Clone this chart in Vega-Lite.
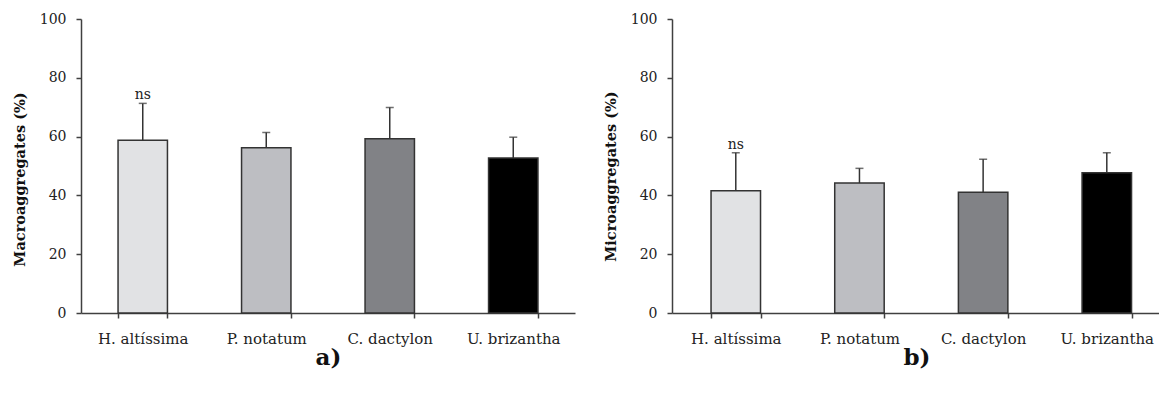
{
  "$schema": "https://vega.github.io/schema/vega-lite/v6.json",
  "padding": {"left": 12, "top": 12, "right": 0, "bottom": 0},
  "background": "white",
  "datasets": {
    "macro": [
      {"species": "H. altíssima", "value": 58.8, "upper": 71.3, "label": "ns"},
      {"species": "P. notatum", "value": 56.2, "upper": 61.4, "label": ""},
      {"species": "C. dactylon", "value": 59.3, "upper": 69.9, "label": ""},
      {"species": "U. brizantha", "value": 52.7, "upper": 59.8, "label": ""}
    ],
    "micro": [
      {"species": "H. altíssima", "value": 41.6, "upper": 54.5, "label": "ns"},
      {"species": "P. notatum", "value": 44.2, "upper": 49.2, "label": ""},
      {"species": "C. dactylon", "value": 41.1, "upper": 52.3, "label": ""},
      {"species": "U. brizantha", "value": 47.7, "upper": 54.5, "label": ""}
    ]
  },
  "spacing": 28,
  "hconcat": [
    {
      "width": 494,
      "height": 294,
      "data": {"name": "macro"},
      "encoding": {
        "x": {
          "field": "species", "type": "nominal", "sort": null,
          "scale": {"paddingInner": 0.6, "paddingOuter": 0.3},
          "axis": {"title": "a)", "labelAngle": 0, "tickBand": "extent"}
        }
      },
      "layer": [
        {
          "mark": {"type": "bar", "stroke": "#333333", "strokeWidth": 1.5},
          "encoding": {
            "y": {"field": "value", "type": "quantitative", "title": "Macroaggregates (%)",
              "scale": {"domain": [0, 100], "nice": false},
              "axis": {"values": [0, 20, 40, 60, 80, 100], "titleY": 160}},
            "color": {"field": "species", "type": "nominal", "sort": null,
              "scale": {"domain": ["H. altíssima", "P. notatum", "C. dactylon", "U. brizantha"], "range": ["#e1e2e4", "#bdbec2", "#818286", "#000000"]},
              "legend": null}
          }
        },
        {
          "mark": {"type": "rule", "color": "#333333", "strokeWidth": 1.5},
          "encoding": {
            "y": {"field": "value", "type": "quantitative", "title": "Macroaggregates (%)"},
            "y2": {"field": "upper"}
          }
        },
        {
          "mark": {"type": "tick", "color": "#333333", "thickness": 1.5, "size": 8, "orient": "horizontal"},
          "encoding": {
            "y": {"field": "upper", "type": "quantitative", "title": "Macroaggregates (%)"}
          }
        },
        {
          "mark": {"type": "text", "font": "DejaVu Serif", "fontSize": 14, "color": "#222222", "baseline": "bottom", "dy": -1},
          "encoding": {
            "y": {"field": "upper", "type": "quantitative", "title": "Macroaggregates (%)"},
            "text": {"field": "label"}
          }
        }
      ]
    },
    {
      "width": 489,
      "height": 294,
      "data": {"name": "micro"},
      "encoding": {
        "x": {
          "field": "species", "type": "nominal", "sort": null,
          "scale": {"paddingInner": 0.6, "paddingOuter": 0.277, "align": 0.57},
          "axis": {"title": "b)", "labelAngle": 0, "tickBand": "extent"}
        }
      },
      "layer": [
        {
          "mark": {"type": "bar", "stroke": "#333333", "strokeWidth": 1.5},
          "encoding": {
            "y": {"field": "value", "type": "quantitative", "title": "Microaggregates (%)",
              "scale": {"domain": [0, 100], "nice": false},
              "axis": {"values": [0, 20, 40, 60, 80, 100], "titleY": 157}},
            "color": {"field": "species", "type": "nominal", "sort": null,
              "scale": {"domain": ["H. altíssima", "P. notatum", "C. dactylon", "U. brizantha"], "range": ["#e1e2e4", "#bdbec2", "#818286", "#000000"]},
              "legend": null}
          }
        },
        {
          "mark": {"type": "rule", "color": "#333333", "strokeWidth": 1.5},
          "encoding": {
            "y": {"field": "value", "type": "quantitative", "title": "Microaggregates (%)"},
            "y2": {"field": "upper"}
          }
        },
        {
          "mark": {"type": "tick", "color": "#333333", "thickness": 1.5, "size": 8, "orient": "horizontal"},
          "encoding": {
            "y": {"field": "upper", "type": "quantitative", "title": "Microaggregates (%)"}
          }
        },
        {
          "mark": {"type": "text", "font": "DejaVu Serif", "fontSize": 14, "color": "#222222", "baseline": "bottom", "dy": -1},
          "encoding": {
            "y": {"field": "upper", "type": "quantitative", "title": "Microaggregates (%)"},
            "text": {"field": "label"}
          }
        }
      ]
    }
  ],
  "config": {
    "view": {"stroke": null},
    "axis": {
      "grid": false,
      "domainColor": "#404040",
      "domainWidth": 1.5,
      "tickColor": "#404040",
      "tickWidth": 1.5,
      "tickSize": 5,
      "labelFont": "DejaVu Serif",
      "labelFontSize": 14,
      "labelColor": "#222222",
      "labelPadding": 10,
      "titleFont": "DejaVu Serif",
      "titleColor": "#111111",
      "titleFontWeight": "bold"
    },
    "axisY": {"titleFontSize": 14.5, "titlePadding": 12},
    "axisX": {"titleFontSize": 23, "titlePadding": 0, "labelPadding": 13, "labelFontSize": 15}
  }
}
